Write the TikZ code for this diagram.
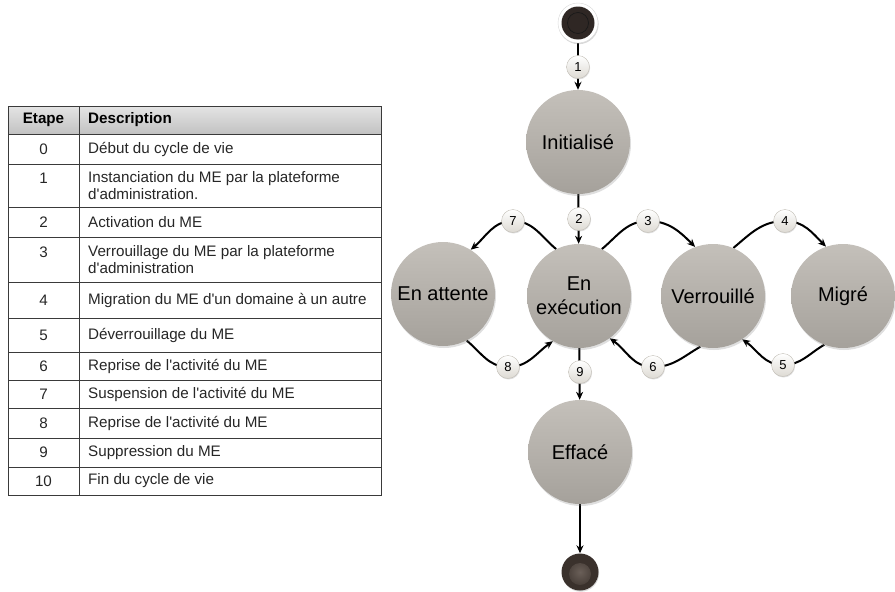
\documentclass[tikz,border=0pt]{standalone}
\usepackage{fontspec}
\setmainfont{Liberation Sans}
\usetikzlibrary{arrows.meta,shadows}
\pgfdeclarelayer{background}
\pgfsetlayers{background,main}
\definecolor{stA}{HTML}{C4C0BA}
\definecolor{stB}{HTML}{A5A19B}
\definecolor{lblB}{HTML}{DDDAD3}
\definecolor{lblD}{HTML}{C2BEB6}
\definecolor{gridc}{HTML}{3A3A3A}
\definecolor{hdrA}{HTML}{E4E4E4}
\definecolor{hdrB}{HTML}{C2C2C2}
\definecolor{startc}{HTML}{2F2724}
\definecolor{endc}{HTML}{3A312C}
\definecolor{endhi}{HTML}{6A5F58}
\newcommand{\q}{\textquotesingle}
\begin{document}
\begin{tikzpicture}[x=1pt,y=1pt,
  state/.style={circle, minimum size=104pt, inner sep=0pt, top color=stA, bottom color=stB,
    font=\fontsize{20}{24}\selectfont, align=center,
    drop shadow={opacity=0.25,shadow xshift=1pt,shadow yshift=-2pt}},
  lbl/.style={circle, minimum size=23pt, inner sep=0pt, top color=white, bottom color=lblB,
    draw=lblD, line width=0.4pt, font=\fontsize{13}{14}\selectfont,
    drop shadow={opacity=0.25,shadow xshift=0.6pt,shadow yshift=-1pt}},
  conn/.style={line width=2pt, -{Stealth[length=8pt,width=7pt]}},
  grid/.style={draw=gridc, line width=0.9pt},
  num/.style={inner sep=0pt, font=\fontsize{15.2}{17}\selectfont, text=black!85},
  desc/.style={inner sep=0pt, anchor=west, align=left, font=\fontsize{15.2}{17}\selectfont, text=black!85},
  hdr/.style={inner sep=0pt, font=\fontsize{15.2}{17}\selectfont\bfseries}
]
\useasboundingbox (0,0) rectangle (895,-592);

% ---------- table ----------
\shade[top color=hdrA, bottom color=hdrB] (8,-106) rectangle (381,-134);
\foreach \yy in {134,164,207,237,282,318,352,380,408,438,467}
  \draw[grid] (8,-\yy) -- (381,-\yy);
\draw[grid] (8,-106) rectangle (381,-495);
\draw[grid] (79,-106) -- (79,-495);

\node[hdr] (hE) at (43.5,-120) {Etape};
\node[hdr, anchor=west] (hD) at (88,-120) {Description};

\node[num] (n0) at (43.5,-149) {0};
\node[desc] (d0) at (88,-149) {Début du cycle de vie};
\node[num] (n1) at (43.5,-178) {1};
\node[desc] (d1) at (88,-185.5) {Instanciation du ME par la plateforme\\d\q administration.};
\node[num] (n2) at (43.5,-222) {2};
\node[desc] (d2) at (88,-222) {Activation du ME};
\node[num] (n3) at (43.5,-252) {3};
\node[desc] (d3) at (88,-259.5) {Verrouillage du ME par la plateforme\\d\q administration};
\node[num] (n4) at (43.5,-300) {4};
\node[desc] (d4) at (88,-300) {Migration du ME d\q un domaine à un autre};
\node[num] (n5) at (43.5,-335) {5};
\node[desc] (d5) at (88,-335) {Déverrouillage du ME};
\node[num] (n6) at (43.5,-366) {6};
\node[desc] (d6) at (88,-366) {Reprise de l\q activité du ME};
\node[num] (n7) at (43.5,-394) {7};
\node[desc] (d7) at (88,-394) {Suspension de l\q activité du ME};
\node[num] (n8) at (43.5,-423) {8};
\node[desc] (d8) at (88,-423) {Reprise de l\q activité du ME};
\node[num] (n9) at (43.5,-452.5) {9};
\node[desc] (d9) at (88,-452.5) {Suppression du ME};
\node[num] (n10) at (43.5,-481) {10};
\node[desc] (d10) at (88,-481) {Fin du cycle de vie};

% ---------- state diagram ----------
\node[circle, minimum size=40pt, inner sep=0pt, fill=white, draw=black!15, line width=0.4pt,
  drop shadow={opacity=0.3,shadow xshift=0.6pt,shadow yshift=-1.2pt},
  path picture={
    \fill[startc] (path picture bounding box.center) circle (16.5pt);
    \draw[black!90, line width=0.7pt] (path picture bounding box.center) circle (10.5pt);
  }] (start) at (578,-23) {};

\node[state] (init) at (578,-142) {Initialisé};
\node[state] (exec) at (579,-296) {En\\exécution};
\node[state] (att)  at (443,-294) {En attente};
\node[state] (ver)  at (713,-296) {Verrouillé};
\node[state] (mig)  at (843,-296) {Migré};
\node[state] (eff)  at (580,-452) {Effacé};

\node[circle, minimum size=37pt, inner sep=0pt, fill=endc,
  drop shadow={opacity=0.3,shadow xshift=0.6pt,shadow yshift=-1.2pt},
  path picture={
    \shade[inner color=endhi, outer color=endc] ([yshift=-2pt]path picture bounding box.center) circle (11pt);
  }] (end) at (580,-572) {};

\node[lbl] (l1) at (578,-67) {1};
\node[lbl] (l2) at (579,-219) {2};
\node[lbl] (l3) at (648,-221) {3};
\node[lbl] (l4) at (785,-221) {4};
\node[lbl] (l5) at (783,-365) {5};
\node[lbl] (l6) at (653,-367) {6};
\node[lbl] (l7) at (513,-221) {7};
\node[lbl] (l8) at (508,-367) {8};
\node[lbl] (l9) at (580,-372) {9};

\begin{pgfonlayer}{background}
  \draw[conn] (start) -- (init);
  \draw[conn] (init) -- (exec);
  \draw[conn] (exec) -- (eff);
  \draw[conn] (eff) -- (end);
  \draw[conn] (exec.116) to[out=140,in=0] (l7.center) to[out=180,in=40] (att.58);
  \draw[conn] (att.297) to[out=-40,in=180] (l8.center) to[out=0,in=215] (exec.240);
  \draw[conn] (exec.64) to[out=40,in=180] (l3.center) to[out=0,in=135] (ver.110);
  \draw[conn] (ver.256) to[out=210,in=0] (l6.center) to[out=180,in=-35] (exec.306);
  \draw[conn] (ver.67) to[out=40,in=180] (l4.center) to[out=0,in=135] (mig.109);
  \draw[conn] (mig.249) to[out=210,in=0] (l5.center) to[out=180,in=-35] (ver.304);
\end{pgfonlayer}
\end{tikzpicture}
\end{document}
